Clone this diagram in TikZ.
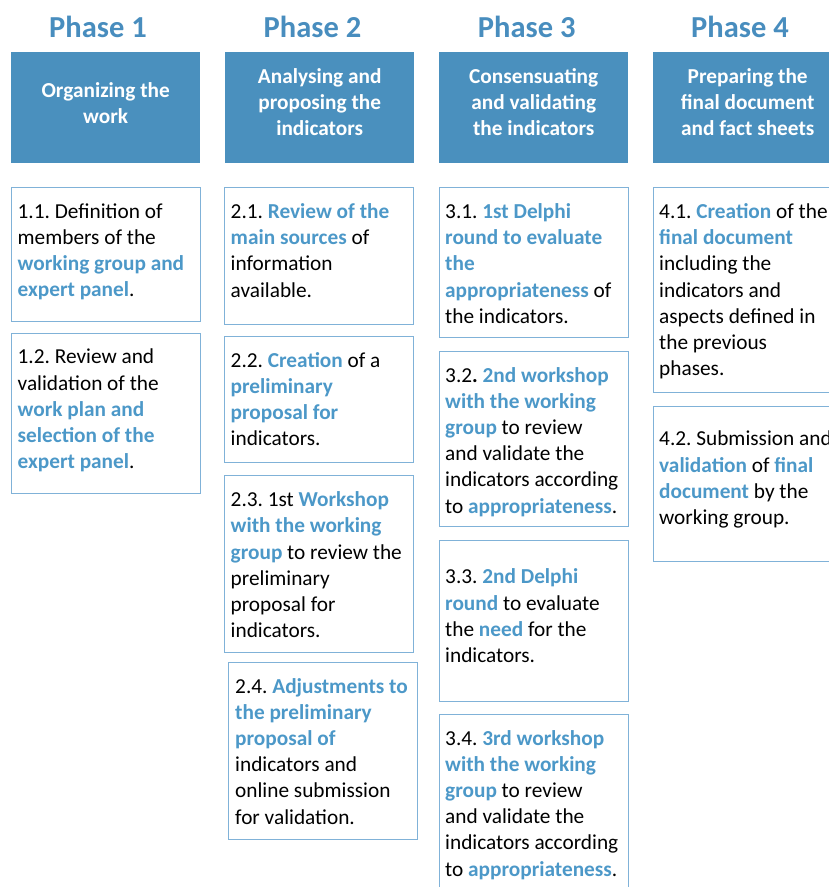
\documentclass[tikz,border=0pt]{standalone}
\usepackage{fontspec}
\setmainfont{Carlito}
\frenchspacing
\usetikzlibrary{positioning}
\definecolor{steelblue}{RGB}{74, 144, 190}
\definecolor{phaseblue}{RGB}{72, 141, 190}
\definecolor{linkblue}{RGB}{76, 152, 200}
\definecolor{frameblue}{RGB}{128, 178, 216}
\newcommand{\blu}[1]{\textbf{\color{linkblue}#1}}
\newcommand{\cardfont}{\fontsize{21.3pt}{26.2pt}\selectfont}

\begin{document}
\begin{tikzpicture}[x=1pt, y=-1pt,
    phase/.style={anchor=base, inner sep=0pt, text=phaseblue, font=\fontsize{30.5pt}{36pt}\selectfont\bfseries},
    headbox/.style={anchor=north west, inner sep=0pt, fill=steelblue, minimum width=189pt, minimum height=111pt},
    headtext/.style={align=center, inner sep=0pt, text=white, font=\cardfont\bfseries, execute at begin node=\strut},
    cardbox/.style={anchor=north west, inner sep=0pt, draw=frameblue, line width=1.3pt, minimum width=189pt},
    cardtext/.style={align=left, inner sep=0pt, font=\cardfont, execute at begin node=\strut}]
            \useasboundingbox (0,0) rectangle (829,887);

            \node[phase]   (p1) at ( 98.0, 37.7) {Phase 1};
            \node[phase]   (p2) at (312.5, 37.7) {Phase 2};
            \node[phase]   (p3) at (526.7, 37.7) {Phase 3};
            \node[phase]   (p4) at (740.0, 37.7) {Phase 4};

            \node[headbox] (h1) at ( 11, 52) {};
            \node[headbox] (h2) at (225, 52) {};
            \node[headbox] (h3) at (439, 52) {};
            \node[headbox] (h4) at (653, 52) {};
            \node[headtext, below=30.2pt of h1.north] (ht1) {Organizing the\\work};
            \node[headtext, below=16.0pt of h2.north] (ht2) {Analysing and\\proposing the\\indicators};
            \node[headtext, below=16.0pt of h3.north] (ht3) {Consensuating\\and validating\\the indicators};
            \node[headtext, below=16.0pt of h4.north] (ht4) {Preparing the\\final document\\and fact sheets};

            \node[cardbox, minimum height=134pt] (c11) at ( 11,187) {};
            \node[cardbox, minimum height=160pt] (c12) at ( 11,333) {};
            \node[cardbox, minimum height=137pt] (c21) at (224,187) {};
            \node[cardbox, minimum height=126pt] (c22) at (224,336) {};
            \node[cardbox, minimum height=177pt] (c23) at (224,475) {};
            \node[cardbox, minimum height=177pt] (c24) at (228,662) {};
            \node[cardbox, minimum height=150pt] (c31) at (439,187) {};
            \node[cardbox, minimum height=175pt] (c32) at (439,351) {};
            \node[cardbox, minimum height=161pt] (c33) at (439,540) {};
            \node[cardbox, minimum height=190pt] (c34) at (439,714) {};
            \node[cardbox, minimum height=205pt, minimum width=195pt] (c41) at (653,187) {};
            \node[cardbox, minimum height=155pt, minimum width=195pt] (c42) at (653,406) {};

            \node[cardtext, below right=16.3pt and 6.5pt of c11.north west] (t11)
                {1.1. Definition of\\members of the\\\blu{working group and}\\\blu{expert panel}.};
            \node[cardtext, below right=16.0pt and 6.5pt of c12.north west] (t12)
                {1.2. Review and\\validation of the\\\blu{work plan and}\\\blu{selection of the}\\\blu{expert panel}.};
            \node[cardtext, below right=16.3pt and 6.5pt of c21.north west] (t21)
                {2.1. \blu{Review of the}\\\blu{main sources} of\\information\\available.};
            \node[cardtext, below right=16.0pt and 6.5pt of c22.north west] (t22)
                {2.2. \blu{Creation} of a\\\blu{preliminary}\\\blu{proposal for}\\indicators.};
            \node[cardtext, below right=16.5pt and 6.5pt of c23.north west] (t23)
                {2.3. 1st \blu{Workshop}\\\blu{with the working}\\\blu{group} to review the\\preliminary\\proposal for\\indicators.};
            \node[cardtext, below right=16.0pt and 7.0pt of c24.north west] (t24)
                {2.4. \blu{Adjustments to}\\\blu{the preliminary}\\\blu{proposal of}\\indicators and\\online submission\\for validation.};
            \node[cardtext, below right=16.3pt and 6.0pt of c31.north west] (t31)
                {3.1. \blu{1st Delphi}\\\blu{round to evaluate}\\\blu{the}\\\blu{appropriateness} of\\the indicators.};
            \node[cardtext, below right=16.0pt and 6.0pt of c32.north west] (t32)
                {3.2\textbf{.} \blu{2nd workshop}\\\blu{with the working}\\\blu{group} to review\\and validate the\\indicators according\\to \blu{appropriateness}.};
            \node[cardtext, below right=28.8pt and 6.0pt of c33.north west] (t33)
                {3.3. \blu{2nd Delphi}\\\blu{round} to evaluate\\the \blu{need} for the\\indicators.};
            \node[cardtext, below right=16.0pt and 6.0pt of c34.north west] (t34)
                {3.4. \blu{3rd workshop}\\\blu{with the working}\\\blu{group} to review\\and validate the\\indicators according\\to \blu{appropriateness}.};
            \node[cardtext, below right=16.3pt and 6.0pt of c41.north west] (t41)
                {4.1. \blu{Creation} of the\\\blu{final document}\\including the\\indicators and\\aspects defined in\\the previous\\phases.};
            \node[cardtext, below right=25.0pt and 6.0pt of c42.north west] (t42)
                {4.2. Submission and\\\blu{validation} of \blu{final}\\\blu{document} by the\\working group.};
\end{tikzpicture}
\end{document}
